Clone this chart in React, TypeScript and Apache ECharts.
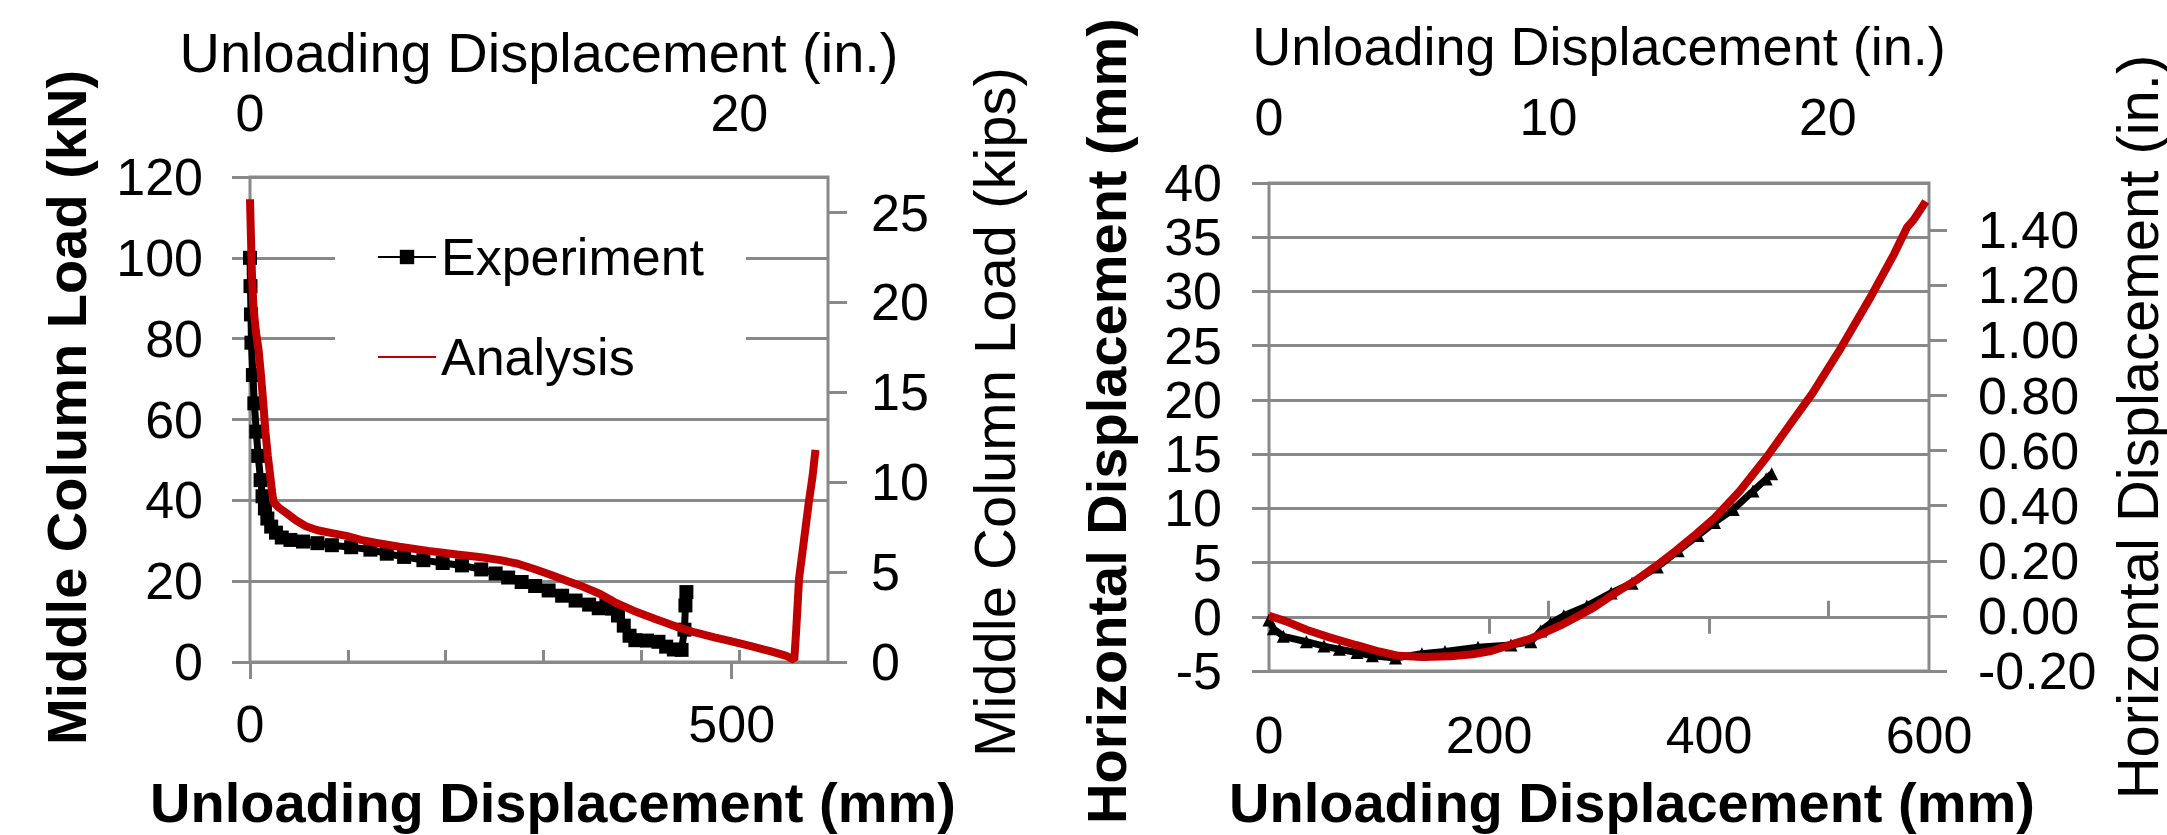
import React, { useEffect, useRef } from "react";
import * as echarts from "echarts";

// ---- Data: left chart (unloading displacement mm, middle column load kN)
const expLoad: [number, number][] = [
  [0, 100], [0.5, 93], [1, 86], [1.5, 79], [3, 71], [4.5, 64], [6.5, 57], [8.5, 51],
  [11, 45], [13, 41], [15.5, 38], [18, 35.5], [22, 33.5], [27, 32], [33, 30.8], [42, 30.2],
  [55, 29.8], [70, 29.4], [85, 28.9], [105, 28.4], [125, 27.8], [142, 26.8], [160, 26.0],
  [180, 25.2], [200, 24.5], [220, 23.9], [240, 22.9], [255, 21.9], [268, 20.9], [282, 19.8],
  [296, 18.8], [310, 17.7], [324, 16.4], [338, 15.2], [352, 14.2], [362, 13.3], [370, 14.4],
  [376, 13.2], [382, 11.5], [388, 9.0], [394, 6.5], [400, 5.4], [412, 5.3], [424, 5.0],
  [432, 3.8], [440, 3.1], [448, 3.0], [451, 8], [452, 14], [453, 17.3],
];
const anaLoad: [number, number][] = [
  [0, 114.5], [1, 105], [2, 96], [3.5, 88], [6, 82], [9, 77], [11, 72], [13.5, 65], [16, 57],
  [18.5, 51], [21, 46], [23, 42], [24.5, 39.5], [30, 38.2], [38, 36.8], [48, 35], [58, 33.6],
  [70, 32.6], [85, 31.9], [100, 31.2], [115, 30.2], [130, 29.5], [155, 28.5], [185, 27.5],
  [215, 26.6], [240, 25.9], [260, 25.2], [278, 24.3], [295, 23.0], [312, 21.6], [330, 20.0],
  [346, 18.6], [363, 16.9], [380, 14.6], [398, 12.7], [420, 10.7], [443, 8.7], [462, 7.3],
  [482, 6.1], [500, 5.1], [520, 3.9], [540, 2.7], [556, 1.6], [565, 0.5], [567, 8],
  [570, 20.7], [575, 30], [580, 39.4], [584, 46], [587, 52.5],
];

// ---- Data: right chart (unloading displacement mm, horizontal displacement mm)
const expHoriz: [number, number][] = [
  [0, -0.3], [4, -1.1], [13, -1.8], [34, -2.3], [50, -2.7], [64, -3.0], [80, -3.3], [94, -3.6],
  [115, -3.8], [139, -3.4], [160, -3.2], [190, -2.8], [220, -2.6], [238, -2.3], [247, -1.3],
  [256, -0.6], [268, 0.1], [289, 1.0], [311, 2.2], [330, 3.1], [353, 4.6], [372, 6.1],
  [390, 7.5], [405, 8.7], [422, 9.9], [440, 11.6], [452, 12.7], [457, 13.2],
];
const anaHoriz: [number, number][] = [
  [0, 0.1], [15, -0.4], [34, -1.2], [55, -1.9], [79, -2.6], [100, -3.2], [118, -3.6],
  [140, -3.7], [165, -3.65], [185, -3.45], [202, -3.15], [222, -2.5], [238, -2.0], [252, -1.4],
  [265, -0.8], [280, 0.0], [296, 0.9], [315, 2.2], [334, 3.4], [352, 4.7], [370, 6.1],
  [388, 7.6], [405, 9.1], [428, 11.6], [453, 14.8], [472, 17.5], [494, 20.6], [520, 24.8],
  [547, 29.5], [568, 33.4], [580, 35.9], [586, 36.6], [592, 37.5], [597, 38.3],
];

// ---- Tick labels / tick positions
const mmLabelsA = [0, 500];
const inLabelsA = [0, 20];
const inTicksA = [4, 8, 12, 16, 20];
const kipsTicks = [0, 5, 10, 15, 20, 25];
const mmLabelsB = [0, 200, 400, 600];
const mmTicksB = [200, 400];
const inLabelsB = [0, 10, 20];
const inTicksB = [10, 20];
const horizInTicks = [-0.2, 0, 0.2, 0.4, 0.6, 0.8, 1.0, 1.2, 1.4];

const GRAY = "#898989";
const RED = "#C00000";
const FONT = 'Arial, "Liberation Sans", sans-serif';
const tickLine = { color: GRAY, width: 3 };
const lbl = { fontSize: 52, color: "#000", fontFamily: FONT };
const nameNormal = { fontSize: 56, color: "#000", fontFamily: FONT, fontWeight: "normal" as const };
const nameBold = { fontSize: 56, color: "#000", fontFamily: FONT, fontWeight: "bold" as const };

export default function App() {
  const ref = useRef<HTMLDivElement>(null);
  useEffect(() => {
    document.body.style.margin = "0";
    if (!ref.current) return;
    const chart = echarts.init(ref.current, undefined, { renderer: "svg" });
    const option: any = {
      animation: false,
      backgroundColor: "#fff",
      textStyle: { fontFamily: FONT },
      grid: [
        { left: 250, top: 177, width: 578, height: 491, show: true, borderColor: GRAY, borderWidth: 3, backgroundColor: "transparent" },
        { left: 1269, top: 183, width: 667, height: 500, show: true, borderColor: GRAY, borderWidth: 3, backgroundColor: "transparent" },
      ],
      legend: {
        data: [
          { name: "Experiment" },
          { name: "Analysis", itemStyle: { opacity: 0 } },
        ],
        orient: "vertical",
        left: 335,
        top: 205,
        itemWidth: 58,
        itemHeight: 18,
        itemGap: 48,
        padding: [26, 42, 17, 42],
        backgroundColor: "#fff",
        selectedMode: false,
        textStyle: { fontSize: 52, color: "#000", fontFamily: FONT },
      },
      xAxis: [
        {
          gridIndex: 0, type: "value", position: "bottom", min: 0, max: 600,
          axisLine: { show: false, onZero: false },
          axisTick: { show: true, customValues: mmLabelsA, length: 17, lineStyle: tickLine },
          axisLabel: { customValues: mmLabelsA, margin: 36, ...lbl },
          splitLine: { show: false },
          name: "Unloading Displacement (mm)", nameLocation: "middle", nameGap: 112,
          nameTextStyle: { ...nameBold, padding: [0, 0, 0, 28] },
        },
        {
          gridIndex: 0, type: "value", position: "top", min: 0, max: 600 / 25.4,
          axisLine: { show: false, onZero: false },
          axisTick: { show: false },
          axisLabel: { customValues: inLabelsA, margin: 38, ...lbl },
          splitLine: { show: false },
          name: "Unloading Displacement (in.)", nameLocation: "middle", nameGap: 97,
          nameTextStyle: nameNormal,
        },
        {
          gridIndex: 0, type: "value", position: "top", min: 0, max: 600 / 25.4,
          axisLine: { show: false, onZero: true, onZeroAxisIndex: 0 },
          axisTick: { show: true, customValues: inTicksA, length: 12, lineStyle: tickLine },
          axisLabel: { show: false },
          splitLine: { show: false },
        },
        {
          gridIndex: 1, type: "value", position: "bottom", min: 0, max: 600,
          axisLine: { show: false, onZero: false },
          axisTick: { show: false },
          axisLabel: { customValues: mmLabelsB, margin: 38, ...lbl },
          splitLine: { show: false },
          name: "Unloading Displacement (mm)", nameLocation: "middle", nameGap: 103,
          nameTextStyle: { ...nameBold, padding: [0, 0, 0, 66] },
        },
        {
          gridIndex: 1, type: "value", position: "top", min: 0, max: 600 / 25.4,
          axisLine: { show: false, onZero: false },
          axisTick: { show: false },
          axisLabel: { customValues: inLabelsB, margin: 40, ...lbl },
          splitLine: { show: false },
          name: "Unloading Displacement (in.)", nameLocation: "middle", nameGap: 110,
          nameTextStyle: { ...nameNormal, fontSize: 54 },
        },
        {
          gridIndex: 1, type: "value", position: "top", min: 0, max: 600 / 25.4,
          axisLine: { show: false, onZero: true, onZeroAxisIndex: 2 },
          axisTick: { show: true, customValues: inTicksB, length: 16, lineStyle: tickLine },
          axisLabel: { show: false },
          splitLine: { show: false },
        },
        {
          gridIndex: 1, type: "value", position: "bottom", min: 0, max: 600,
          axisLine: { show: false, onZero: true, onZeroAxisIndex: 2 },
          axisTick: { show: true, customValues: mmTicksB, length: 17, lineStyle: tickLine },
          axisLabel: { show: false },
          splitLine: { show: false },
        },
      ],
      yAxis: [
        {
          gridIndex: 0, type: "value", position: "left", min: 0, max: 120, interval: 20,
          axisLine: { show: false, onZero: false },
          axisTick: { show: true, length: 18, lineStyle: tickLine },
          axisLabel: { margin: 47, ...lbl },
          splitLine: { show: true, lineStyle: tickLine },
          name: "Middle Column Load (kN)", nameLocation: "middle", nameGap: 156,
          nameTextStyle: { ...nameBold, padding: [0, 0, 0, 24] },
        },
        {
          gridIndex: 0, type: "value", position: "right", min: 0, max: 120 / 4.44822,
          axisLine: { show: false, onZero: false },
          axisTick: { show: true, customValues: kipsTicks, length: 19, lineStyle: tickLine },
          axisLabel: { customValues: kipsTicks, margin: 43, ...lbl },
          splitLine: { show: false },
          name: "Middle Column Load (kips)", nameLocation: "middle", nameGap: 137,
          nameTextStyle: { ...nameNormal, fontSize: 58, padding: [0, 0, 0, 15] },
        },
        {
          gridIndex: 1, type: "value", position: "left", min: -5, max: 40, interval: 5,
          axisLine: { show: false, onZero: false },
          axisTick: { show: true, length: 17, lineStyle: tickLine },
          axisLabel: { margin: 47, ...lbl },
          splitLine: { show: true, lineStyle: tickLine },
          name: "Horizontal Displacement (mm)", nameLocation: "middle", nameGap: 135,
          nameTextStyle: { ...nameBold, padding: [0, 0, 0, 12] },
        },
        {
          gridIndex: 1, type: "value", position: "right", min: -0.2, max: -0.2 + 45 / 25.4,
          axisLine: { show: false, onZero: false },
          axisTick: { show: true, customValues: horizInTicks, length: 18, lineStyle: tickLine },
          axisLabel: { customValues: horizInTicks, margin: 49, ...lbl, formatter: (v: number) => v.toFixed(2) },
          splitLine: { show: false },
          name: "Horizontal Displacement (in.)", nameLocation: "middle", nameGap: 179,
          nameTextStyle: { ...nameNormal, fontSize: 58 },
        },
      ],
      series: [
        {
          type: "line", name: "Experiment", xAxisIndex: 0, yAxisIndex: 0, data: expLoad,
          symbol: "rect", symbolSize: 14, clip: false, z: 2,
          lineStyle: { color: "#000", width: 7 }, itemStyle: { color: "#000" },
        },
        {
          type: "line", name: "Analysis", xAxisIndex: 0, yAxisIndex: 0, data: anaLoad,
          symbol: "none", clip: false, z: 3,
          lineStyle: { color: RED, width: 8 }, itemStyle: { color: RED },
        },
        {
          type: "line", name: "Experiment", xAxisIndex: 3, yAxisIndex: 2, data: expHoriz,
          symbol: "triangle", symbolSize: 13, clip: false, z: 2,
          lineStyle: { color: "#000", width: 7 }, itemStyle: { color: "#000" },
        },
        {
          type: "line", name: "Analysis", xAxisIndex: 3, yAxisIndex: 2, data: anaHoriz,
          symbol: "none", clip: false, z: 3,
          lineStyle: { color: RED, width: 8 }, itemStyle: { color: RED },
        },
      ],
    };
    chart.setOption(option);
    return () => chart.dispose();
  }, []);
  return (
    <div
      ref={ref}
      style={{ position: "fixed", left: 0, top: 0, width: 2167, height: 835, background: "#fff" }}
    />
  );
}
